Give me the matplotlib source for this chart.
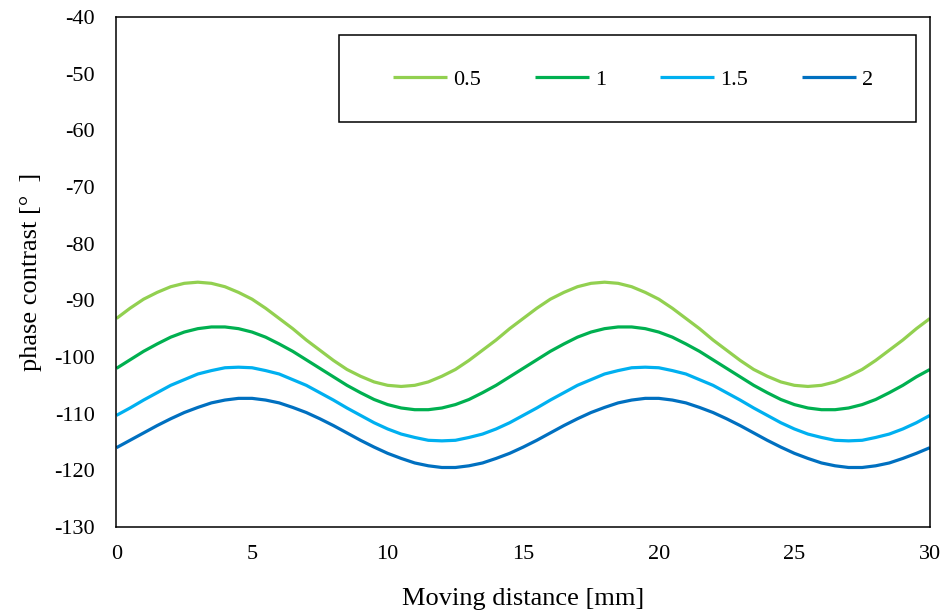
import matplotlib
matplotlib.use('Agg')
import matplotlib.pyplot as plt
from matplotlib.patches import Rectangle

#%% data (0.5 mm steps)
x = [i * 0.5 for i in range(61)]

s05 = [-93.2, -91.4, -89.8, -88.6, -87.6, -87.0, -86.8, -87.0, -87.6, -88.6,
       -89.8, -91.4, -93.2, -95.0, -97.0, -98.8, -100.6, -102.2, -103.4, -104.4,
       -105.0, -105.2, -105.0, -104.4, -103.4, -102.2, -100.6, -98.8, -97.0, -95.0,
       -93.2, -91.4, -89.8, -88.6, -87.6, -87.0, -86.8, -87.0, -87.6, -88.6,
       -89.8, -91.4, -93.2, -95.0, -97.0, -98.8, -100.6, -102.2, -103.4, -104.4,
       -105.0, -105.2, -105.0, -104.4, -103.4, -102.2, -100.6, -98.8, -97.0, -95.0,
       -93.2]
s1 = [-102.0, -100.5, -99.0, -97.7, -96.5, -95.6, -95.0, -94.7, -94.7, -95.0,
      -95.6, -96.5, -97.7, -99.0, -100.5, -102.0, -103.5, -105.0, -106.3, -107.5,
      -108.4, -109.0, -109.3, -109.3, -109.0, -108.4, -107.5, -106.3, -105.0, -103.5,
      -102.0, -100.5, -99.0, -97.7, -96.5, -95.6, -95.0, -94.7, -94.7, -95.0,
      -95.6, -96.5, -97.7, -99.0, -100.5, -102.0, -103.5, -105.0, -106.3, -107.5,
      -108.4, -109.0, -109.3, -109.3, -109.0, -108.4, -107.5, -106.3, -105.0, -103.5,
      -102.2]
s15 = [-110.3, -109.0, -107.6, -106.3, -105.0, -104.0, -103.0, -102.4, -101.9, -101.8,
       -101.9, -102.4, -103.0, -104.0, -105.0, -106.3, -107.6, -109.0, -110.3, -111.6,
       -112.7, -113.6, -114.2, -114.7, -114.8, -114.7, -114.2, -113.6, -112.7, -111.6,
       -110.3, -109.0, -107.6, -106.3, -105.0, -104.0, -103.0, -102.4, -101.9, -101.8,
       -101.9, -102.4, -103.0, -104.0, -105.0, -106.3, -107.6, -109.0, -110.3, -111.6,
       -112.7, -113.6, -114.2, -114.7, -114.8, -114.7, -114.2, -113.6, -112.7, -111.6,
       -110.3]
s2 = [-116.0, -114.7, -113.4, -112.1, -110.9, -109.8, -108.9, -108.1, -107.6, -107.3,
      -107.3, -107.6, -108.1, -108.9, -109.8, -110.9, -112.1, -113.4, -114.7, -115.9,
      -117.0, -117.9, -118.7, -119.2, -119.5, -119.5, -119.2, -118.7, -117.9, -117.0,
      -115.9, -114.7, -113.4, -112.1, -110.9, -109.8, -108.9, -108.1, -107.6, -107.3,
      -107.3, -107.6, -108.1, -108.9, -109.8, -110.9, -112.1, -113.4, -114.7, -115.9,
      -117.0, -117.9, -118.7, -119.2, -119.5, -119.5, -119.2, -118.7, -117.9, -117.0,
      -116.0]

labels = ['0.5', '1', '1.5', '2']
colors = ['#92D050', '#00B050', '#00B0F0', '#0070C0']
xticks = [0, 5, 10, 15, 20, 25, 30]
yticks = list(range(-130, -39, 10))

#%% plot
plt.rcParams['font.family'] = ['Liberation Serif', 'DejaVu Serif']
plt.rcParams['axes.unicode_minus'] = False

fig = plt.figure(figsize=(9.47, 6.13), dpi=100)
ax = fig.add_axes([0.123, 0.1403, 0.859, 0.832])

for ys, lab, c in zip([s05, s1, s15, s2], labels, colors):
    ax.plot(x, ys, color=c, lw=2.3, label=lab, solid_capstyle='butt')

ax.set_xlim(0, 30)
ax.set_ylim(-130, -40)
ax.set_xticks(xticks)
ax.set_yticks(yticks)
ax.tick_params(axis='both', length=0, labelsize=16)
ax.tick_params(axis='y', pad=15.5)
ax.tick_params(axis='x', pad=13)
for sp in ax.spines.values():
    sp.set_linewidth(1.1)
    sp.set_color('black')

ax.set_xlabel('Moving distance [mm]', fontsize=19, labelpad=17)
ax.set_ylabel('phase contrast [°  ]', fontsize=19, labelpad=9)

# legend box like the original
ax.add_patch(Rectangle((0.2735, 0.794), 0.7095, 0.171, transform=ax.transAxes,
                       fill=False, edgecolor='black', lw=1.1, zorder=5))
ax.legend(loc='center left', bbox_to_anchor=(0.340, 0.8765), frameon=False,
          ncol=4, fontsize=16, handlelength=2.43, handletextpad=0.27,
          columnspacing=2.43, borderpad=0, borderaxespad=0)

fig.savefig('out.png', dpi=100)
